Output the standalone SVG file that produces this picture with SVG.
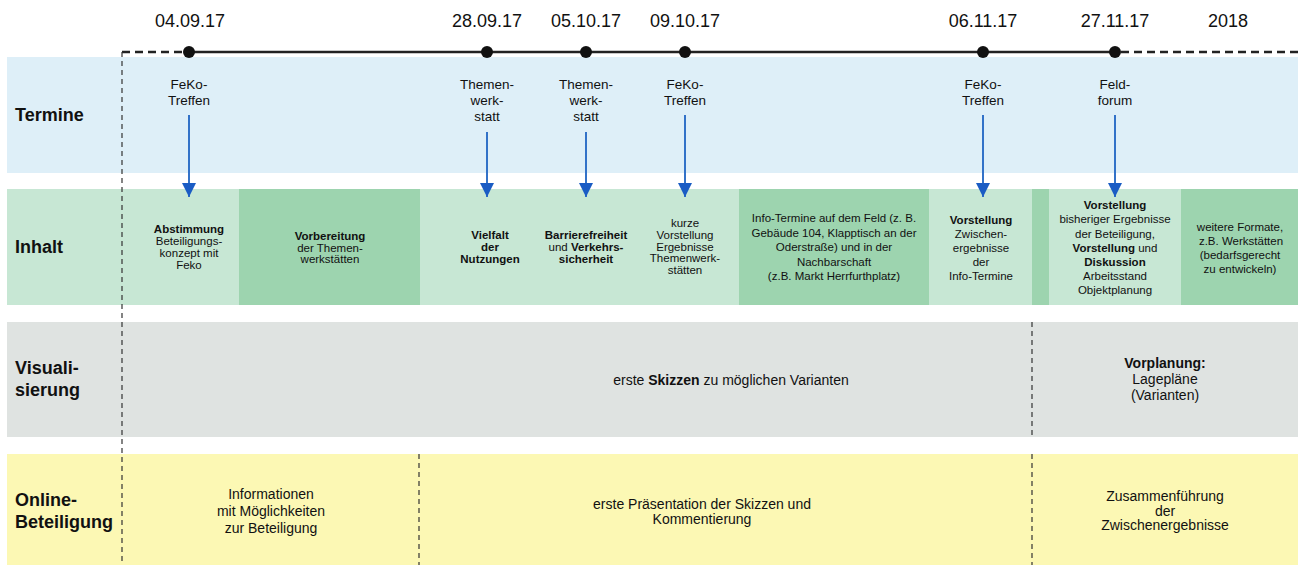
<svg xmlns="http://www.w3.org/2000/svg" width="1298" height="565" viewBox="0 0 1298 565">
<defs>
<style>
text{font-family:"Liberation Sans",Arial,sans-serif;fill:#111;text-anchor:middle}
.row{font-size:18px;font-weight:bold;text-anchor:start}
.date{font-size:18px}
.tl{font-size:13.5px}
.in{font-size:11.5px}
.big{font-size:14px}
.b{font-weight:bold}
.dash{stroke:#333;stroke-width:1.2;stroke-dasharray:5 4;fill:none}
.arrow{stroke:#3272c8;stroke-width:2;marker-end:url(#ah)}
</style>
<marker id="ah" markerUnits="userSpaceOnUse" markerWidth="14" markerHeight="14" refX="14" refY="7" orient="auto" viewBox="0 0 14 14">
<path d="M0,0 L14,7 L0,14 z" fill="#1a5cc4"/>
</marker>
</defs>
<rect width="1298" height="565" fill="#fff"/>

<!-- bands -->
<g id="band-termine"><rect x="7" y="57" width="1291" height="116" fill="#deeff8"/><text class="row" x="15" y="121">Termine</text></g>
<g id="band-inhalt">
<rect x="7" y="189" width="1291" height="116" fill="#c7e7d4"/>
<rect x="239" y="189" width="181" height="116" fill="#9dd4af"/>
<rect x="739" y="189" width="190" height="116" fill="#9dd4af"/>
<rect x="1032" y="189" width="17" height="116" fill="#9dd4af"/>
<rect x="1181" y="189" width="117" height="116" fill="#9dd4af"/>
<text class="row" x="15" y="253">Inhalt</text>
</g>
<g id="band-visual"><rect x="7" y="322" width="1291" height="115" fill="#dfe3e1"/><text class="row" x="15" y="374">Visuali-</text><text class="row" x="15" y="396">sierung</text></g>
<g id="band-online"><rect x="7" y="454" width="1291" height="111" fill="#fcf8b4"/><text class="row" x="15" y="506">Online-</text><text class="row" x="15" y="528">Beteiligung</text></g>

<!-- connectors -->
<g id="connectors">
<line x1="122" y1="52" x2="189" y2="52" stroke="#222" stroke-width="2.5" stroke-dasharray="8 5"/>
<line x1="189" y1="52" x2="1115" y2="52" stroke="#222" stroke-width="2.5"/>
<line x1="1121" y1="52" x2="1298" y2="52" stroke="#222" stroke-width="2.5" stroke-dasharray="8 5"/>
<line class="dash" x1="122" y1="52" x2="122" y2="565"/>
<line class="dash" x1="1032" y1="322" x2="1032" y2="437"/>
<line class="dash" x1="1032" y1="454" x2="1032" y2="565"/>
<line class="dash" x1="419" y1="454" x2="419" y2="565"/>
<line class="arrow" x1="189" y1="115" x2="189" y2="197"/>
<line class="arrow" x1="487" y1="132" x2="487" y2="197"/>
<line class="arrow" x1="586" y1="132" x2="586" y2="197"/>
<line class="arrow" x1="685" y1="115" x2="685" y2="197"/>
<line class="arrow" x1="983" y1="115" x2="983" y2="197"/>
<line class="arrow" x1="1115" y1="115" x2="1115" y2="197"/>
</g>

<!-- timeline dates -->
<g id="d1"><circle cx="189" cy="52" r="6" fill="#111"/><text class="date" x="190" y="27">04.09.17</text><text class="tl" x="189" y="89">FeKo-</text><text class="tl" x="189" y="105">Treffen</text></g>
<g id="d2"><circle cx="487" cy="52" r="6" fill="#111"/><text class="date" x="487" y="27">28.09.17</text><text class="tl" x="487" y="89">Themen-</text><text class="tl" x="487" y="105">werk-</text><text class="tl" x="487" y="121">statt</text></g>
<g id="d3"><circle cx="586" cy="52" r="6" fill="#111"/><text class="date" x="586" y="27">05.10.17</text><text class="tl" x="586" y="89">Themen-</text><text class="tl" x="586" y="105">werk-</text><text class="tl" x="586" y="121">statt</text></g>
<g id="d4"><circle cx="685" cy="52" r="6" fill="#111"/><text class="date" x="685" y="27">09.10.17</text><text class="tl" x="685" y="89">FeKo-</text><text class="tl" x="685" y="105">Treffen</text></g>
<g id="d5"><circle cx="983" cy="52" r="6" fill="#111"/><text class="date" x="983" y="27">06.11.17</text><text class="tl" x="983" y="89">FeKo-</text><text class="tl" x="983" y="105">Treffen</text></g>
<g id="d6"><circle cx="1115" cy="52" r="6" fill="#111"/><text class="date" x="1115" y="27">27.11.17</text><text class="tl" x="1115" y="89">Feld-</text><text class="tl" x="1115" y="105">forum</text></g>
<g id="d7"><text class="date" x="1228" y="27">2018</text></g>

<!-- Inhalt cells -->
<g id="i1"><text class="in" x="189" y="233"><tspan class="b">Abstimmung</tspan></text><text class="in" x="189" y="245">Beteiligungs-</text><text class="in" x="189" y="257">konzept mit</text><text class="in" x="189" y="269">Feko</text></g>
<g id="i2"><text class="in" x="330" y="240"><tspan class="b">Vorbereitung</tspan></text><text class="in" x="330" y="251.5">der Themen-</text><text class="in" x="330" y="263">werkstätten</text></g>
<g id="i3"><text class="in b" x="490" y="239">Vielfalt</text><text class="in b" x="490" y="251">der</text><text class="in b" x="490" y="263">Nutzungen</text></g>
<g id="i4"><text class="in b" x="586" y="239">Barrierefreiheit</text><text class="in" x="586" y="251">und <tspan class="b">Verkehrs-</tspan></text><text class="in b" x="586" y="263">sicherheit</text></g>
<g id="i5"><text class="in" x="685" y="227">kurze</text><text class="in" x="685" y="239">Vorstellung</text><text class="in" x="685" y="251">Ergebnisse</text><text class="in" x="685" y="262">Themenwerk-</text><text class="in" x="685" y="274">stätten</text></g>
<g id="i6"><text class="in" x="834" y="222">Info-Termine auf dem Feld (z. B.</text><text class="in" x="834" y="236.5">Gebäude 104, Klapptisch an der</text><text class="in" x="834" y="251">Oderstraße) und in der</text><text class="in" x="834" y="265.5">Nachbarschaft</text><text class="in" x="834" y="280">(z.B. Markt Herrfurthplatz)</text></g>
<g id="i7"><text class="in b" x="981" y="224">Vorstellung</text><text class="in" x="981" y="238">Zwischen-</text><text class="in" x="981" y="252">ergebnisse</text><text class="in" x="981" y="266">der</text><text class="in" x="981" y="280">Info-Termine</text></g>
<g id="i8"><text class="in b" x="1115" y="209">Vorstellung</text><text class="in" x="1115" y="223">bisheriger Ergebnisse</text><text class="in" x="1115" y="237.5">der Beteiligung,</text><text class="in" x="1115" y="251.5"><tspan class="b">Vorstellung</tspan> und</text><text class="in b" x="1115" y="265.5">Diskussion</text><text class="in" x="1115" y="279.5">Arbeitsstand</text><text class="in" x="1115" y="293.5">Objektplanung</text></g>
<g id="i9"><text class="in" x="1240" y="231">weitere Formate,</text><text class="in" x="1241" y="245">z.B. Werkstätten</text><text class="in" x="1240" y="259">(bedarfsgerecht</text><text class="in" x="1240" y="272.5">zu entwickeln)</text></g>

<!-- Visualisierung -->
<g id="v1"><text class="big" x="731" y="385">erste <tspan class="b">Skizzen</tspan> zu möglichen Varianten</text></g>
<g id="v2"><text class="big b" x="1165" y="368">Vorplanung:</text><text class="big" x="1165" y="384">Lagepläne</text><text class="big" x="1165" y="400">(Varianten)</text></g>

<!-- Online -->
<g id="o1"><text class="big" x="271" y="499">Informationen</text><text class="big" x="271" y="516">mit Möglichkeiten</text><text class="big" x="271" y="533">zur Beteiligung</text></g>
<g id="o2"><text class="big" x="702" y="509">erste Präsentation der Skizzen und</text><text class="big" x="702" y="524">Kommentierung</text></g>
<g id="o3"><text class="big" x="1165" y="501">Zusammenführung</text><text class="big" x="1165" y="516">der</text><text class="big" x="1165" y="530">Zwischenergebnisse</text></g>
</svg>
